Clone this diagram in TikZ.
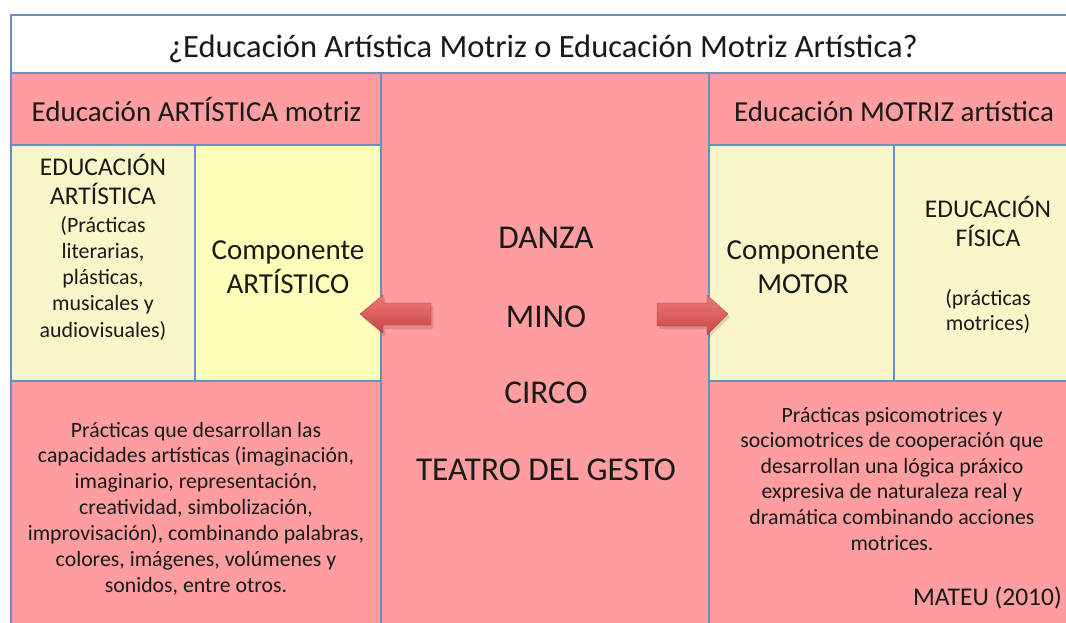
\documentclass[tikz,border=0pt]{standalone}
\usepackage{fontspec}
\setmainfont{Carlito}
\definecolor{pk}{RGB}{255,157,161}
\definecolor{cr}{RGB}{251,246,202}
\definecolor{yl}{RGB}{255,255,185}
\definecolor{bl}{RGB}{106,143,199}
\definecolor{tx}{RGB}{25,25,25}
\definecolor{arT}{RGB}{240,120,120}
\definecolor{arB}{RGB}{198,70,72}
\tikzset{
  cell/.style={anchor=north west, inner sep=0pt},
  bord/.style={draw=bl, line width=1.6pt},
  lbl/.style={text=tx, anchor=base, inner sep=0pt},
  fA/.style={font=\fontsize{32.5}{38}\selectfont},
  fH/.style={font=\fontsize{29}{34}\selectfont},
  fE/.style={font=\fontsize{25.5}{30}\selectfont},
  fS/.style={font=\fontsize{21.9}{26}\selectfont},
  fC/.style={font=\fontsize{29}{34}\selectfont},
  fD/.style={font=\fontsize{33.3}{38}\selectfont},
  fP/.style={font=\fontsize{21.8}{26}\selectfont},
  blockarrow/.style={shading=axis, top color=arT, bottom color=arB, draw=arB!80!black, line width=0.3pt},
  arrowshadow/.style={fill=black, opacity=0.12},
}
\begin{document}
\begin{tikzpicture}[x=1pt,y=-1pt]
\useasboundingbox (0,0) rectangle (1066,622);
\clip (0,0) rectangle (1066,622);
\fill[white] (0,0) rectangle (1066,622);
% boxes (fills)
\node[cell, fill=white, minimum width=1090, minimum height=58] (title) at (11,15) {};
\node[cell, fill=pk, minimum width=328, minimum height=580] (cen) at (381,73) {};
\node[cell, fill=pk, minimum width=370, minimum height=72] (lh) at (11,73) {};
\node[cell, fill=pk, minimum width=385, minimum height=72] (rh) at (709,73) {};
\node[cell, fill=cr, minimum width=184, minimum height=236] (lea) at (11,145) {};
\node[cell, fill=yl, minimum width=186, minimum height=236] (lca) at (195,145) {};
\node[cell, fill=cr, minimum width=185, minimum height=236] (rcm) at (709,145) {};
\node[cell, fill=cr, minimum width=200, minimum height=236] (ref) at (894,145) {};
\node[cell, fill=pk, minimum width=370, minimum height=260] (lb) at (11,381) {};
\node[cell, fill=pk, minimum width=385, minimum height=260] (rb) at (709,381) {};
% borders
\foreach \n in {title,cen,lh,rh,lea,lca,rcm,ref,lb,rb}
  \draw[bord] (\n.north west) rectangle (\n.south east);
% title and headers
\node[lbl, fA] (tt) at (543,57) {¿Educación Artística Motriz o Educación Motriz Artística?};
\node[lbl, fH] (lht) at (196.5,121) {Educación ARTÍSTICA motriz};
\node[lbl, fH] (rht) at (894,121) {Educación MOTRIZ artística};
% left yellow cells
\node[lbl, fE] (lea1) at (103,175) {EDUCACIÓN};
\node[lbl, fE] (lea2) at (103,204) {ARTÍSTICA};
\node[lbl, fS] (lea3) at (103,232) {(Prácticas};
\node[lbl, fS] (lea4) at (103,258) {literarias,};
\node[lbl, fS] (lea5) at (103,284) {plásticas,};
\node[lbl, fS] (lea6) at (103,310) {musicales y};
\node[lbl, fS] (lea7) at (103,337) {audiovisuales)};
\node[lbl, fC] (lca1) at (288,259) {Componente};
\node[lbl, fC] (lca2) at (288,293) {ARTÍSTICO};
% center
\node[lbl, fD] (c1) at (546,248) {DANZA};
\node[lbl, fD] (c2) at (546,327) {MINO};
\node[lbl, fD] (c3) at (546,403) {CIRCO};
\node[lbl, fD] (c4) at (546,480) {TEATRO DEL GESTO};
% right yellow cells
\node[lbl, fC] (rcm1) at (803,259) {Componente};
\node[lbl, fC] (rcm2) at (803,293) {MOTOR};
\node[lbl, fE] (ref1) at (988,217) {EDUCACIÓN};
\node[lbl, fE] (ref2) at (988,246) {FÍSICA};
\node[lbl, fS] (ref3) at (988,305) {(prácticas};
\node[lbl, fS] (ref4) at (988,330) {motrices)};
% bottom paragraphs
\node[lbl, fP] (lb1) at (196,437) {Prácticas que desarrollan las};
\node[lbl, fP] (lb2) at (196,462.8) {capacidades artísticas (imaginación,};
\node[lbl, fP] (lb3) at (196,488.6) {imaginario, representación,};
\node[lbl, fP] (lb4) at (196,514.4) {creatividad, simbolización,};
\node[lbl, fP] (lb5) at (196,540.2) {improvisación), combinando palabras,};
\node[lbl, fP] (lb6) at (196,566) {colores, imágenes, volúmenes y};
\node[lbl, fP] (lb7) at (196,592) {sonidos, entre otros.};
\node[lbl, fP] (rb1) at (892,422) {Prácticas psicomotrices y};
\node[lbl, fP] (rb2) at (892,447.6) {sociomotrices de cooperación que};
\node[lbl, fP] (rb3) at (892,473.2) {desarrollan una lógica práxico};
\node[lbl, fP] (rb4) at (892,498.8) {expresiva de naturaleza real y};
\node[lbl, fP] (rb5) at (892,524.4) {dramática combinando acciones};
\node[lbl, fP] (rb6) at (892,550) {motrices.};
\node[lbl, fE, anchor=base east] (mat) at (1062,605) {MATEU (2010)};
% block arrows
\fill[arrowshadow] (362,317) -- (385,298) -- (385,306) -- (433,306) -- (433,329) -- (385,329) -- (385,337) -- cycle;
\path[blockarrow] (360,314) -- (383,295) -- (383,303) -- (431,303) -- (431,325) -- (383,325) -- (383,333) -- cycle;
\fill[arrowshadow] (659,306) -- (709,306) -- (709,298) -- (730,317) -- (709,338) -- (709,329) -- (659,329) -- cycle;
\path[blockarrow] (657,303) -- (707,303) -- (707,295) -- (728,314) -- (707,335) -- (707,326) -- (657,326) -- cycle;
\end{tikzpicture}
\end{document}
